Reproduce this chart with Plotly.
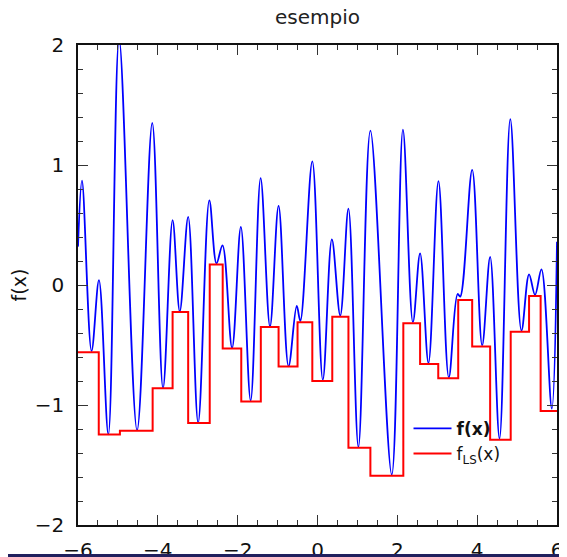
import plotly.graph_objects as go

# blue curve f(x): points (extrema and end points)
fx_x = [-6.0, -5.9, -5.66, -5.475, -5.24, -4.97, -4.52, -4.14, -3.87, -3.63,
        -3.45, -3.24, -2.99, -2.71, -2.53, -2.38, -2.14, -1.92, -1.675, -1.425,
        -1.19, -0.975, -0.725, -0.52, -0.43, -0.13, 0.133, 0.36, 0.57, 0.775,
        1.025, 1.325, 1.86, 2.14, 2.39, 2.57, 2.78, 3.03, 3.29, 3.51,
        3.575, 3.875, 4.125, 4.325, 4.56, 4.83, 5.11, 5.3, 5.45, 5.61,
        5.87, 6.0]
fx_y = [0.32, 0.87, -0.55, 0.04, -1.245, 2.05, -1.21, 1.35, -0.86, 0.54,
        -0.22, 0.567, -1.148, 0.705, 0.18, 0.33, -0.525, 0.484, -0.963, 0.89,
        -0.346, 0.66, -0.678, -0.174, -0.30, 1.03, -0.79, 0.38, -0.255, 0.636,
        -1.35, 1.286, -1.58, 1.295, -0.31, 0.263, -0.65, 0.866, -0.77, -0.075,
        -0.097, 0.96, -0.503, 0.235, -1.28, 1.383, -0.38, 0.089, -0.083, 0.13,
        -1.03, 0.36]

# red step function f_LS(x): step edges and levels
ls_edges = [-6.0, -5.48, -4.95, -4.13, -3.63, -3.24, -2.7, -2.375, -1.91, -1.42,
            -0.975, -0.5, -0.13, 0.37, 0.775, 1.325, 2.15, 2.57, 3.025, 3.525,
            3.875, 4.325, 4.84, 5.3, 5.59, 6.0]
ls_levels = [-0.56, -1.245, -1.215, -0.86, -0.225, -1.15, 0.17, -0.53, -0.97, -0.35,
             -0.68, -0.31, -0.80, -0.265, -1.356, -1.59, -0.318, -0.658, -0.777, -0.125,
             -0.512, -1.29, -0.39, -0.091, -1.05]

x_ticks = [-6, -4, -2, 0, 2, 4, 6]
y_ticks = [-2, -1, 0, 1, 2]

FONT = "DejaVu Sans"

fig = go.Figure()
fig.add_trace(go.Scatter(x=fx_x, y=fx_y, mode="lines", name="<b>f(x)</b>",
                         line=dict(color="#0000ff", width=1.8, shape="spline", smoothing=1.0)))
fig.add_trace(go.Scatter(x=ls_edges, y=ls_levels + [ls_levels[-1]], mode="lines",
                         name="f<sub>LS</sub>(x)",
                         line=dict(color="#ff0000", width=2, shape="hv")))

axis_common = dict(
    ticks="inside", ticklen=10, tickwidth=1.3, tickcolor="#333333",
    showline=True, linecolor="#111111", linewidth=1.5, mirror="ticks",
    showgrid=False, zeroline=False, automargin=False,
    tickfont=dict(family=FONT, size=20, color="#111111"),
)

fig.update_xaxes(range=[-6, 6], tickvals=x_ticks, ticklabelstandoff=6,
                 minor=dict(dtick=0.5, ticks="inside", ticklen=5, tickwidth=1.2, tickcolor="#333333"),
                 **axis_common)
fig.update_yaxes(range=[-2, 2], tickvals=y_ticks, ticklabelstandoff=8,
                 minor=dict(dtick=0.2, ticks="inside", ticklen=5, tickwidth=1.2, tickcolor="#333333"),
                 title=dict(text="f(x)", font=dict(family=FONT, size=19, color="#111111"), standoff=14),
                 **axis_common)

# thin dark band at the very bottom of the picture
fig.add_shape(type="rect", xref="paper", yref="paper",
              x0=-90 / 479, x1=(567 - 60) / 479, y0=-35 / 480, y1=-29 / 480,
              fillcolor="#20205e", line=dict(width=0), layer="above")

# the page body adds an 8px offset, so margins are reduced by 8 on the left/top
fig.update_layout(
    width=567, height=557,
    margin=dict(l=70, r=18, t=37, b=40),
    paper_bgcolor="white", plot_bgcolor="white",
    font=dict(family=FONT, color="#111111"),
    title=dict(text="esempio", x=0.5, xref="paper", xanchor="center",
               y=1 - 9 / 557, yref="container", yanchor="middle",
               font=dict(family=FONT, size=20, color="#222222")),
    legend=dict(x=0.69, y=0.238, xanchor="left", yanchor="top",
                bgcolor="rgba(0,0,0,0)", font=dict(family=FONT, size=17, color="#111111"),
                itemwidth=38, tracegroupgap=2),
    showlegend=True,
)

fig.write_html("out.html")
